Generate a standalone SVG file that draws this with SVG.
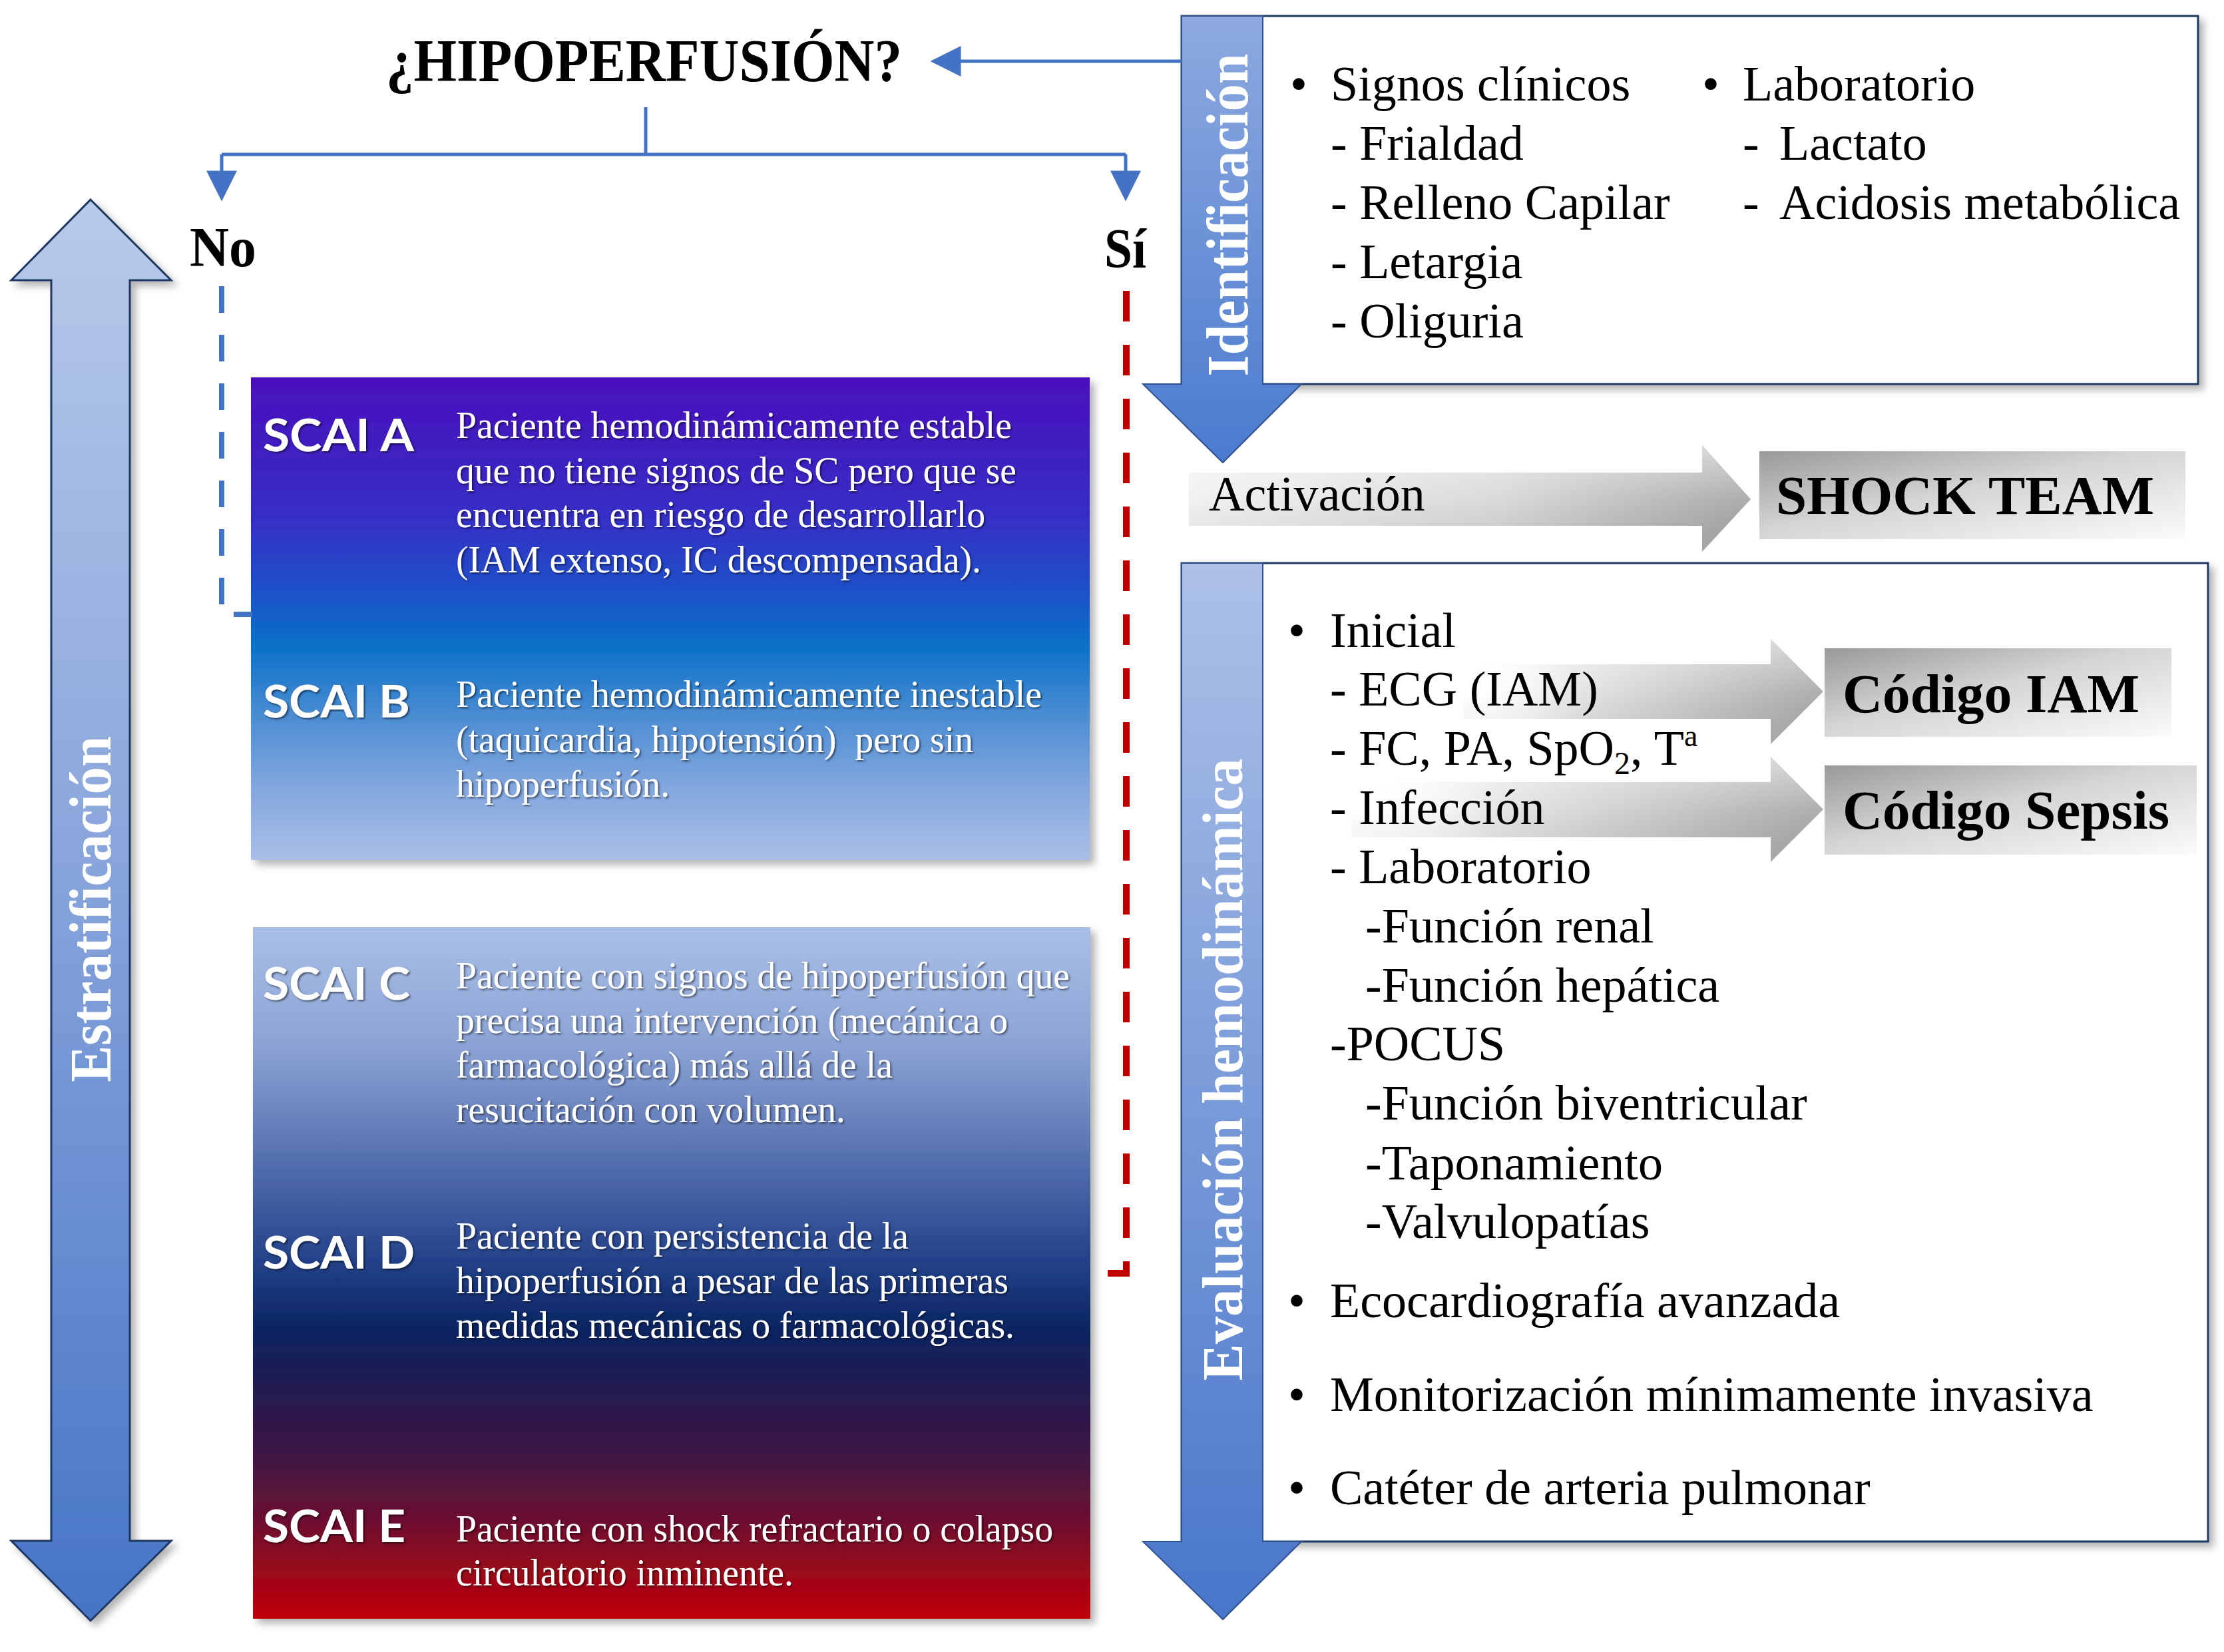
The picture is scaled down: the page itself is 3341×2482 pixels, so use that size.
<svg xmlns="http://www.w3.org/2000/svg" width="3341" height="2482" viewBox="0 0 3341 2482">
<style>
.ser{font-family:"Liberation Serif","Times New Roman",serif}
.blk{fill:#000}
.t74{font-size:74px}
.bl{font-weight:bold}
.desc{font-family:"Liberation Serif","Times New Roman",serif;font-size:56px;fill:#fff;filter:url(#tsh)}
.scai{font-family:Lato,"Liberation Sans",sans-serif;font-weight:bold;font-size:66px;fill:#fff;filter:url(#tsh)}
.vlab{font-family:"Liberation Serif","Times New Roman",serif;font-weight:bold;fill:#fff;text-anchor:middle}
.panel{fill:#fff;stroke:#1f3864;stroke-width:3;filter:url(#sh)}
.barrow{stroke:#2f528f;stroke-width:2}
.conn{fill:none;stroke:#4472c4;stroke-width:5}
.code{font-family:"Liberation Serif","Times New Roman",serif;font-weight:bold;font-size:83px;fill:#000}
</style>
<defs>
<linearGradient id="gStrat" x1="0" y1="0" x2="0" y2="1">
<stop offset="0" stop-color="#b8caea"/><stop offset="0.45" stop-color="#8aa6dc"/><stop offset="1" stop-color="#4674c6"/>
</linearGradient>
<linearGradient id="gIdent" x1="0" y1="0" x2="0" y2="1">
<stop offset="0" stop-color="#8eaadf"/><stop offset="1" stop-color="#4a7bcf"/>
</linearGradient>
<linearGradient id="gEval" x1="0" y1="0" x2="0" y2="1">
<stop offset="0" stop-color="#adc1e8"/><stop offset="1" stop-color="#4876ca"/>
</linearGradient>
<linearGradient id="gBox1" x1="0" y1="0" x2="0" y2="1">
<stop offset="0" stop-color="#4a0fbd"/><stop offset="0.3" stop-color="#3530c6"/><stop offset="0.45" stop-color="#1c52c8"/><stop offset="0.55" stop-color="#0870c8"/><stop offset="0.7" stop-color="#4a8cd2"/><stop offset="0.85" stop-color="#83a7de"/><stop offset="1" stop-color="#aabfe8"/>
</linearGradient>
<linearGradient id="gBox2" x1="0" y1="0" x2="0" y2="1">
<stop offset="0" stop-color="#aabfe8"/><stop offset="0.17" stop-color="#8ba3d4"/><stop offset="0.31" stop-color="#5e78b6"/><stop offset="0.48" stop-color="#24428a"/><stop offset="0.58" stop-color="#0b2562"/><stop offset="0.65" stop-color="#1e1c54"/><stop offset="0.76" stop-color="#3c1644"/><stop offset="0.86" stop-color="#6e1030"/><stop offset="1" stop-color="#c00006"/>
</linearGradient>
<linearGradient id="gGray" x1="0" y1="0" x2="1" y2="0">
<stop offset="0" stop-color="#ffffff" stop-opacity="0"/><stop offset="0.3" stop-color="#e4e4e4"/><stop offset="1" stop-color="#a6a6a6"/>
</linearGradient>
<linearGradient id="gAct" x1="0" y1="0" x2="1" y2="0">
<stop offset="0" stop-color="#f0f0f0"/><stop offset="0.55" stop-color="#d6d6d6"/><stop offset="1" stop-color="#a4a4a4"/>
</linearGradient>
<linearGradient id="gSheen" x1="0" y1="0" x2="0" y2="1">
<stop offset="0" stop-color="#ffffff" stop-opacity="0.55"/><stop offset="0.5" stop-color="#ffffff" stop-opacity="0.1"/><stop offset="1" stop-color="#000000" stop-opacity="0.05"/>
</linearGradient>
<linearGradient id="gCode" x1="0" y1="0" x2="1" y2="1">
<stop offset="0" stop-color="#999999"/><stop offset="0.45" stop-color="#d4d4d4"/><stop offset="1" stop-color="#fbfbfb"/>
</linearGradient>
<filter id="sh" x="-5%" y="-5%" width="115%" height="115%">
<feDropShadow dx="7" dy="7" stdDeviation="6" flood-color="#000" flood-opacity="0.3"/>
</filter>
<filter id="tsh" x="-5%" y="-20%" width="115%" height="150%">
<feDropShadow dx="2" dy="2" stdDeviation="1.5" flood-color="#000" flood-opacity="0.55"/>
</filter>
<marker id="ah" markerUnits="userSpaceOnUse" markerWidth="46" markerHeight="46" viewBox="0 0 44 44" refX="34" refY="22" orient="auto">
<path d="M0,0 L44,22 L0,44 z" fill="#4472c4"/>
</marker>
</defs>
<rect width="3341" height="2482" fill="#fff"/>

<g id="node-estratificacion">
<polygon points="136,300 257,421 195,421 195,2315 257,2315 136,2435 17,2315 77,2315 77,421 17,421" fill="url(#gStrat)" stroke="#1f3864" stroke-width="3" filter="url(#sh)"/>
<text class="vlab" font-size="88" textLength="520" lengthAdjust="spacingAndGlyphs" transform="translate(166,1366) rotate(-90)">Estratificación</text>
</g>

<g id="node-hipoperfusion">
<text class="ser blk bl" x="580" y="122" font-size="90" textLength="775" lengthAdjust="spacingAndGlyphs">¿HIPOPERFUSIÓN?</text>
</g>
<g id="node-no">
<text class="ser blk bl" x="285" y="400" font-size="84" textLength="100" lengthAdjust="spacingAndGlyphs">No</text>
</g>
<g id="node-si">
<text class="ser blk bl" x="1659" y="402" font-size="84" textLength="63" lengthAdjust="spacingAndGlyphs">Sí</text>
</g>

<g id="node-scai-ab">
<rect x="377" y="567" width="1260" height="725" fill="url(#gBox1)" filter="url(#sh)"/>
<text class="scai" x="395" y="678" textLength="227" lengthAdjust="spacingAndGlyphs">SCAI A</text>
<text class="desc" x="685" y="658" textLength="835" lengthAdjust="spacingAndGlyphs">Paciente hemodinámicamente estable</text>
<text class="desc" x="685" y="726" textLength="842" lengthAdjust="spacingAndGlyphs">que no tiene signos de SC pero que se</text>
<text class="desc" x="685" y="792" textLength="795" lengthAdjust="spacingAndGlyphs">encuentra en riesgo de desarrollarlo</text>
<text class="desc" x="685" y="860" textLength="789" lengthAdjust="spacingAndGlyphs">(IAM extenso, IC descompensada).</text>
<text class="scai" x="395" y="1078" textLength="221" lengthAdjust="spacingAndGlyphs">SCAI B</text>
<text class="desc" x="685" y="1062" textLength="880" lengthAdjust="spacingAndGlyphs">Paciente hemodinámicamente inestable</text>
<text class="desc" x="685" y="1130" textLength="777" lengthAdjust="spacingAndGlyphs" style="white-space:pre">(taquicardia, hipotensión)  pero sin</text>
<text class="desc" x="685" y="1197" textLength="321" lengthAdjust="spacingAndGlyphs">hipoperfusión.</text>
</g>

<g id="node-scai-cde">
<rect x="380" y="1393" width="1258" height="1039" fill="url(#gBox2)" filter="url(#sh)"/>
<text class="scai" x="395" y="1502" textLength="221" lengthAdjust="spacingAndGlyphs">SCAI C</text>
<text class="desc" x="685" y="1485" textLength="922" lengthAdjust="spacingAndGlyphs">Paciente con signos de hipoperfusión que</text>
<text class="desc" x="685" y="1552" textLength="829" lengthAdjust="spacingAndGlyphs">precisa una intervención (mecánica o</text>
<text class="desc" x="685" y="1619" textLength="656" lengthAdjust="spacingAndGlyphs">farmacológica) más allá de la</text>
<text class="desc" x="685" y="1686" textLength="585" lengthAdjust="spacingAndGlyphs">resucitación con volumen.</text>
<text class="scai" x="395" y="1906" textLength="228" lengthAdjust="spacingAndGlyphs">SCAI D</text>
<text class="desc" x="685" y="1876" textLength="680" lengthAdjust="spacingAndGlyphs">Paciente con persistencia de la</text>
<text class="desc" x="685" y="1943" textLength="830" lengthAdjust="spacingAndGlyphs">hipoperfusión a pesar de las primeras</text>
<text class="desc" x="685" y="2010" textLength="839" lengthAdjust="spacingAndGlyphs">medidas mecánicas o farmacológicas.</text>
<text class="scai" x="395" y="2317" textLength="214" lengthAdjust="spacingAndGlyphs">SCAI E</text>
<text class="desc" x="685" y="2316" textLength="897" lengthAdjust="spacingAndGlyphs">Paciente con shock refractario o colapso</text>
<text class="desc" x="685" y="2382" textLength="507" lengthAdjust="spacingAndGlyphs">circulatorio inminente.</text>
</g>

<g id="node-identificacion">
<rect class="panel" x="1775" y="24" width="1527" height="553"/>
<polygon class="barrow" points="1775,24 1897,24 1897,577 1955,577 1837,695 1717,577 1775,577" fill="url(#gIdent)"/>
<text class="vlab" font-size="88" textLength="485" lengthAdjust="spacingAndGlyphs" transform="translate(1874,323) rotate(-90)">Identificación</text>
<g class="ser blk t74">
<text x="1938" y="151">•</text>
<text x="1999" y="151">Signos clínicos</text>
<text x="1999" y="240">- Frialdad</text>
<text x="1999" y="329">- Relleno Capilar</text>
<text x="1999" y="418">- Letargia</text>
<text x="1999" y="507">- Oliguria</text>
<text x="2557" y="151">•</text>
<text x="2618" y="151">Laboratorio</text>
<text x="2618" y="240">-<tspan x="2673">Lactato</tspan></text>
<text x="2618" y="329">-<tspan x="2673">Acidosis metabólica</tspan></text>
</g>
</g>

<g id="node-activacion">
<polygon points="1786,710 2557,710 2557,669 2630,750 2557,829 2557,790 1786,790" fill="url(#gAct)"/>
<polygon points="1786,710 2557,710 2557,669 2630,750 2557,829 2557,790 1786,790" fill="url(#gSheen)"/>
<text class="ser blk t74" x="1816" y="767">Activación</text>
</g>

<g id="node-shock-team">
<rect x="2643" y="678" width="640" height="132" fill="url(#gCode)"/>
<text class="code" x="2668" y="772" textLength="568" lengthAdjust="spacingAndGlyphs">SHOCK TEAM</text>
</g>

<g id="node-evaluacion">
<rect class="panel" x="1775" y="846" width="1542" height="1470"/>
<polygon class="barrow" points="1775,846 1897,846 1897,2316 1955,2316 1837,2433 1717,2316 1775,2316" fill="url(#gEval)"/>
<text class="vlab" font-size="86" textLength="935" lengthAdjust="spacingAndGlyphs" transform="translate(1866,1607) rotate(-90)">Evaluación hemodinámica</text>
<polygon points="2199,998 2660,998 2660,960 2739,1039 2660,1118 2660,1080 2199,1080" fill="url(#gGray)"/>
<polygon points="2199,998 2660,998 2660,960 2739,1039 2660,1118 2660,1080 2199,1080" fill="url(#gSheen)"/>
<polygon points="2031,1175 2660,1175 2660,1137 2739,1216 2660,1295 2660,1258 2031,1258" fill="url(#gGray)"/>
<polygon points="2031,1175 2660,1175 2660,1137 2739,1216 2660,1295 2660,1258 2031,1258" fill="url(#gSheen)"/>
<g class="ser blk t74">
<text x="1935" y="972">•</text>
<text x="1998" y="972">Inicial</text>
<text x="1998" y="1060">- ECG (IAM)</text>
<text x="1998" y="1149">- FC, PA, SpO<tspan font-size="48" dy="14">2</tspan><tspan dy="-14">, T</tspan><tspan font-size="46" dy="-28">a</tspan></text>
<text x="1998" y="1238">- Infección</text>
<text x="1998" y="1327">- Laboratorio</text>
<text x="2051" y="1416">-Función renal</text>
<text x="2051" y="1505">-Función hepática</text>
<text x="1998" y="1593">-POCUS</text>
<text x="2051" y="1682">-Función biventricular</text>
<text x="2051" y="1772">-Taponamiento</text>
<text x="2051" y="1860">-Valvulopatías</text>
<text x="1935" y="1979">•</text>
<text x="1998" y="1979">Ecocardiografía avanzada</text>
<text x="1935" y="2120">•</text>
<text x="1998" y="2120">Monitorización mínimamente invasiva</text>
<text x="1935" y="2260">•</text>
<text x="1998" y="2260">Catéter de arteria pulmonar</text>
</g>
</g>

<g id="node-codigo-iam">
<rect x="2741" y="974" width="521" height="133" fill="url(#gCode)"/>
<text class="code" x="2768" y="1070" textLength="446" lengthAdjust="spacingAndGlyphs">Código IAM</text>
</g>
<g id="node-codigo-sepsis">
<rect x="2741" y="1150" width="559" height="134" fill="url(#gCode)"/>
<text class="code" x="2768" y="1245" textLength="491" lengthAdjust="spacingAndGlyphs">Código Sepsis</text>
</g>

<g id="connectors">
<path class="conn" d="M1775,92 H1408" marker-end="url(#ah)"/>
<path class="conn" d="M970,161 V232"/>
<path class="conn" d="M333,232 H1691"/>
<path class="conn" d="M333,232 V292" marker-end="url(#ah)"/>
<path class="conn" d="M1691,232 V292" marker-end="url(#ah)"/>
<path d="M333,430 V923 H379" fill="none" stroke="#4472c4" stroke-width="8" stroke-dasharray="40 33"/>
<path d="M1692,437 V1913 H1663" fill="none" stroke="#c00000" stroke-width="10" stroke-dasharray="46 35"/>
</g>
</svg>
